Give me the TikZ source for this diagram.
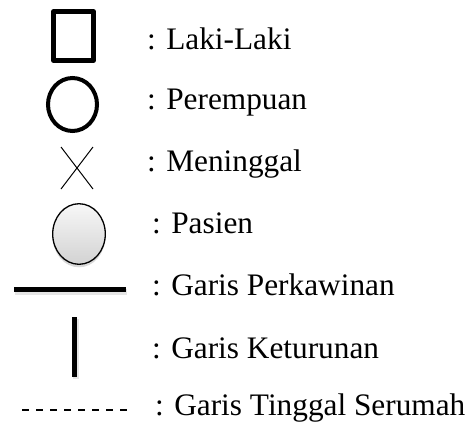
\documentclass[tikz,border=0pt]{standalone}
\usepackage{fontspec}
\setmainfont{Liberation Serif}
\usetikzlibrary{shapes.geometric,shadows}
\begin{document}
\begin{tikzpicture}[x=1pt,y=-1pt,
  label/.style={anchor=base west,inner sep=0pt,font=\fontsize{31.3}{37}\selectfont},
  symbox/.style={draw,line width=4.7pt,line join=round,minimum width=40pt,minimum height=49pt,inner sep=0pt},
  symell/.style={draw,ellipse,line width=4pt,minimum width=49pt,minimum height=53pt,inner sep=0pt},
  patient/.style={draw,ellipse,line width=1.3pt,minimum width=52.6pt,minimum height=60.6pt,inner sep=0pt,
    top color=gray!6,bottom color=gray!35,
    drop shadow={shadow xshift=0pt,shadow yshift=-3pt,opacity=0.15,fill=black}},
  thickline/.style={line width=5pt},
  lineshadow/.style={line width=6pt,black,opacity=0.1},
  liveline/.style={line width=2pt,dash pattern=on 7pt off 7pt}]
\useasboundingbox (0,0) rectangle (471,428);
% symbols
\node[symbox] (male) at (73.5,36) {};
\node[symell] (female) at (72.5,104.5) {};
\coordinate (xa) at (61,147); \coordinate (xb) at (93,189);
\coordinate (xc) at (93,147); \coordinate (xd) at (61,189);
\draw[line width=1pt] (xa) -- (xb) (xc) -- (xd);
\node[patient] (pasien) at (79,234) {};
\coordinate (ma) at (14,289.5); \coordinate (mb) at (126,289.5);
\coordinate (msa) at (15,292); \coordinate (msb) at (127,292);
\draw[lineshadow] (msa) -- (msb);
\draw[thickline] (ma) -- (mb);
\coordinate (da) at (74,317); \coordinate (db) at (74,377);
\coordinate (dsa) at (76,319); \coordinate (dsb) at (76,379);
\draw[lineshadow] (dsa) -- (dsb);
\draw[thickline] (da) -- (db);
\coordinate (la) at (22,410); \coordinate (lb) at (129,410);
\draw[liveline] (la) -- (lb);
% labels
\node[label] (t1) at (147,50) {: Laki-Laki};
\node[label] (t2) at (147,109) {: Perempuan};
\node[label] (t3) at (147,171) {: Meninggal};
\node[label] (t4) at (152,233) {: Pasien};
\node[label] (t5) at (152,295) {: Garis Perkawinan};
\node[label] (t6) at (152,358) {: Garis Keturunan};
\node[label] (t7) at (155,415) {: Garis Tinggal Serumah};
\end{tikzpicture}
\end{document}
